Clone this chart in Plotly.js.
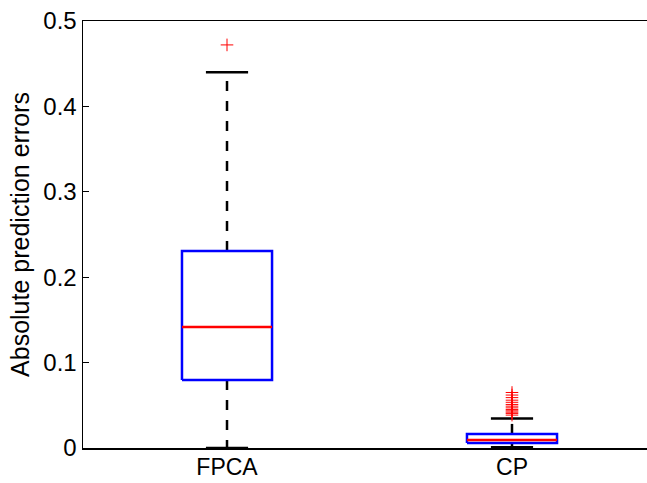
<!DOCTYPE html>
<html>
<head>
<meta charset="utf-8">
<script src="https://cdn.plot.ly/plotly-3.0.1.min.js"></script>
<style>html,body{margin:0;padding:0;background:#fff;}#chart{width:647px;height:483px;}</style>
</head>
<body>
<div id="chart"></div>
<script>
// Data
const categories = ["FPCA", "CP"];
const positions = [1, 2];
const q1 = [0.0796, 0.0060];
const median = [0.1417, 0.0095];
const q3 = [0.2307, 0.0165];
const lowerWhisker = [0.0, 0.0008];
const upperWhisker = [0.440, 0.0345];
const outliersFPCA = [0.472];
const outliersCP = [0.0385, 0.0405, 0.0420, 0.0435, 0.0450, 0.0470, 0.0490, 0.0510, 0.0535, 0.0560, 0.0590, 0.0620, 0.0650];

const boxHalf = 0.158;
const capHalf = 0.074;
const traces = [];

for (let i = 0; i < categories.length; i++) {
  const x = positions[i];
  traces.push({type:'scatter', mode:'lines', x:[x, x], y:[q3[i], upperWhisker[i]],
    line:{color:'#000', width:2.5, dash:'10px,10px'}, hoverinfo:'skip', showlegend:false});
  traces.push({type:'scatter', mode:'lines', x:[x, x], y:[q1[i], lowerWhisker[i]],
    line:{color:'#000', width:2.5, dash:'10px,10px'}, hoverinfo:'skip', showlegend:false});
  traces.push({type:'scatter', mode:'lines', x:[x - capHalf, x + capHalf], y:[upperWhisker[i], upperWhisker[i]],
    line:{color:'#000', width:2.5}, hoverinfo:'skip', showlegend:false});
  traces.push({type:'scatter', mode:'lines', x:[x - capHalf, x + capHalf], y:[lowerWhisker[i], lowerWhisker[i]],
    line:{color:'#000', width:2.5}, hoverinfo:'skip', showlegend:false});
  traces.push({type:'scatter', mode:'lines',
    x:[x - boxHalf, x + boxHalf, x + boxHalf, x - boxHalf, x - boxHalf],
    y:[q1[i], q1[i], q3[i], q3[i], q1[i]],
    line:{color:'#0000ff', width:2.5}, hoverinfo:'skip', showlegend:false});
  traces.push({type:'scatter', mode:'lines', x:[x - boxHalf, x + boxHalf], y:[median[i], median[i]],
    line:{color:'#ff0000', width:2.5}, hoverinfo:'skip', showlegend:false});
}

const outlierSets = [outliersFPCA, outliersCP];
outlierSets.forEach((vals, i) => {
  traces.push({type:'scatter', mode:'markers', x: vals.map(() => positions[i]), y: vals,
    marker:{symbol:'cross-thin', size:9, line:{color:'#ff0000', width:1}, color:'#ff0000'},
    hoverinfo:'skip', showlegend:false});
});

const layout = {
  width: 647, height: 483,
  margin: {l: 83, r: 0, t: 21, b: 35},
  paper_bgcolor: '#fff', plot_bgcolor: '#fff',
  font: {family: 'Liberation Sans, Arial, sans-serif', color: '#000', size: 24},
  xaxis: {
    range: [0.4947, 2.4737],
    tickvals: positions, ticktext: categories,
    showgrid: false, zeroline: false,
    showline: true, linecolor: '#000', linewidth: 1.5, mirror: true,
    ticks: '', tickfont: {size: 23}, ticklabelstandoff: -2
  },
  yaxis: {
    range: [0, 0.5], dtick: 0.1, tick0: 0,
    showgrid: false, zeroline: false,
    showline: true, linecolor: '#000', linewidth: 1.5, mirror: false,
    ticks: 'inside', ticklen: 6, tickcolor: '#000', tickwidth: 1,
    tickfont: {size: 24},
    title: {text: 'Absolute prediction errors', font: {size: 25}, standoff: 6}
  }
};

Plotly.newPlot('chart', traces, layout, {displayModeBar: false, staticPlot: true});
</script>
</body>
</html>
